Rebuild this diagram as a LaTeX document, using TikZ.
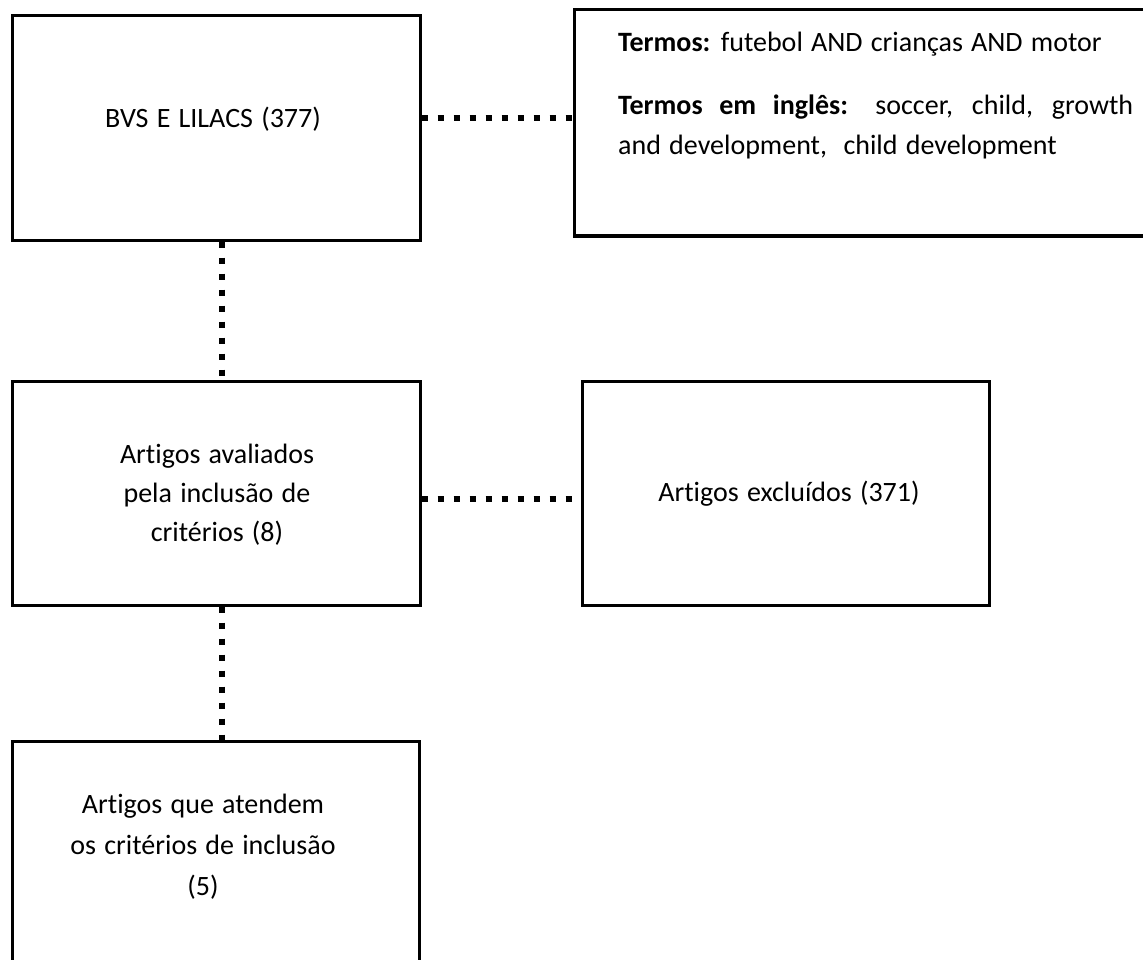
\documentclass[tikz,border=0pt]{standalone}
\usepackage{fontspec}
\setmainfont{Carlito}[WordSpace=1.3,Ligatures=NoCommon]
\begin{document}
\begin{tikzpicture}[x=1pt,y=-1pt,
  box/.style={draw,line width=3pt,inner sep=0pt},
  lab/.style={font=\fontsize{28}{39}\selectfont,inner sep=0pt},
  link/.style={line width=6pt,dash pattern=on 6pt off 10pt}]
\clip (0,0) rectangle (1143,960);
% boxes
\node[box,minimum width=408pt,minimum height=224pt] (bvs) at (216,128) {};
\node[box,minimum width=576pt,minimum height=226pt] (termos) at (862,123) {};
\node[box,minimum width=408pt,minimum height=224pt] (aval) at (216,493) {};
\node[box,minimum width=407pt,minimum height=224pt] (excl) at (785.5,493) {};
\node[box,minimum width=407pt,minimum height=232pt] (atend) at (215.5,857) {};
% connectors
\draw[link] ([yshift=10pt]bvs.east) -- ([yshift=10pt]bvs.east -| termos.west);
\draw[link] ([xshift=6pt]bvs.south) -- ([xshift=6pt]bvs.south |- aval.north);
\draw[link] ([yshift=-6pt]aval.east) -- ([yshift=-6pt]aval.east -| excl.west);
\draw[link] ([xshift=6pt]aval.south) -- ([xshift=6pt]aval.south |- atend.north);
% texts
\node[lab,anchor=base] (tbvs) at (213,128) {BVS E LILACS (377)};
\node[lab,anchor=base west] (tterm1) at (618,52) {\textbf{Termos:} futebol AND crianças AND motor};
\node[lab,anchor=base west,text width=515pt,align=justify,font=\fontsize{28}{40}\selectfont] (tterm2) at (618,115)
  {\textbf{Termos em inglês:} soccer, child, growth\linebreak and development,~ child development};
\node[lab,align=center] (taval) at (217,494.5) {Artigos avaliados\\pela inclusão de\\critérios (8)};
\node[lab,anchor=base] (texcl) at (789,501) {Artigos excluídos (371)};
\node[lab,align=center,font=\fontsize{28}{41}\selectfont] (tatend) at (203,847) {Artigos que atendem\\os critérios de inclusão\\(5)};
\end{tikzpicture}
\end{document}
